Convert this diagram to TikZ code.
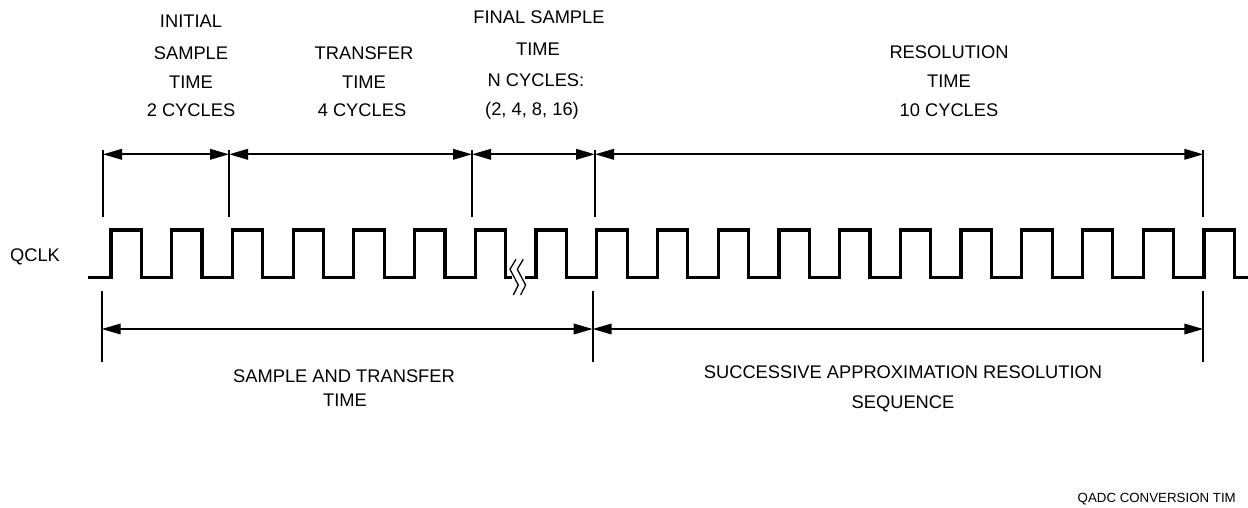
\documentclass[tikz,border=0pt]{standalone}
\usepackage{fontspec}
\setmainfont{Liberation Sans}
\usetikzlibrary{arrows.meta}
\tikzset{
  lbl/.style={inner sep=0pt, anchor=base, font=\fontsize{18.3}{22}\selectfont},
  small/.style={inner sep=0pt, anchor=base east, font=\fontsize{13.3}{16}\selectfont},
  clk/.style={line width=3.2pt, line join=miter},
  tick/.style={line width=2pt},
  dim/.style={line width=2pt, {Triangle[length=19pt,width=10.5pt]}-{Triangle[length=19pt,width=10.5pt]}},
  brk/.style={line width=1.3pt}
}
\begin{document}
\begin{tikzpicture}[x=1pt,y=-1pt]
\useasboundingbox (0,0) rectangle (1248,507);
% column headings (baseline = centre + 6.5)
\node[lbl] (c1a) at (191,27.5) {INITIAL};
\node[lbl] (c1b) at (191,59.5) {SAMPLE};
\node[lbl] (c1c) at (191,88.5) {TIME};
\node[lbl] (c1d) at (191,116.5) {2 CYCLES};
\node[lbl] (c2b) at (364,59) {TRANSFER};
\node[lbl] (c2c) at (364,88.5) {TIME};
\node[lbl] (c2d) at (362,116.5) {4 CYCLES};
\node[lbl] (c3a) at (539,23.5) {FINAL SAMPLE};
\node[lbl] (c3b) at (538,55.5) {TIME};
\node[lbl] (c3c) at (536,86.5) {N CYCLES:};
\node[lbl] (c3d) at (532,115.5) {(2, 4, 8, 16)};
\node[lbl] (c4b) at (949,58.5) {RESOLUTION};
\node[lbl] (c4c) at (949,87.5) {TIME};
\node[lbl] (c4d) at (949,116.5) {10 CYCLES};
% top dimension lines
\foreach \n/\x in {t1/103,t2/229,t3/472,t4/595,t5/1203.3}{
  \coordinate (\n) at (\x,154.3);
  \draw[tick] (\x,150) -- (\x,217);
}
\draw[dim] (t1) -- (t2);
\draw[dim] (t2) -- (t3);
\draw[dim] (t3) -- (t4);
\draw[dim] (t4) -- (t5);
% clock
\node[lbl] (qclk) at (35,261.5) {QCLK};
\draw[clk] (88,277.7)
  foreach \k in {0,...,6} { -- ({111+60.72*\k},277.7) -- ++(0,-47.7) -- ++(30.36,0) -- ++(0,47.7) }
  -- (511.7,277.7);
\draw[clk] (525,277.7)
  foreach \k in {7,...,18} { -- ({111+60.72*\k},277.7) -- ++(0,-47.7) -- ++(30.36,0) -- ++(0,47.7) }
  -- (1250,277.7);
% break symbol
\draw[brk] (516,259.3) -- (510,269.3) -- (518.3,285) -- (513.3,295);
\draw[brk] (523.3,259.3) -- (517.3,269.3) -- (525.6,285) -- (520.6,295);
% bottom dimension lines
\foreach \n/\x in {b1/101.7,b2/592.7,b3/1203.3}{
  \coordinate (\n) at (\x,329);
  \draw[tick] (\x,291) -- (\x,362);
}
\draw[dim] (b1) -- (b2);
\draw[dim] (b2) -- (b3);
\node[lbl] (s1) at (344,382.5) {SAMPLE AND TRANSFER};
\node[lbl] (s2) at (345,406.5) {TIME};
\node[lbl] (r1) at (903,378.5) {SUCCESSIVE APPROXIMATION RESOLUTION};
\node[lbl] (r2) at (903,408.5) {SEQUENCE};
\node[small] (foot) at (1236,502.8) {QADC CONVERSION TIM};
\end{tikzpicture}
\end{document}
